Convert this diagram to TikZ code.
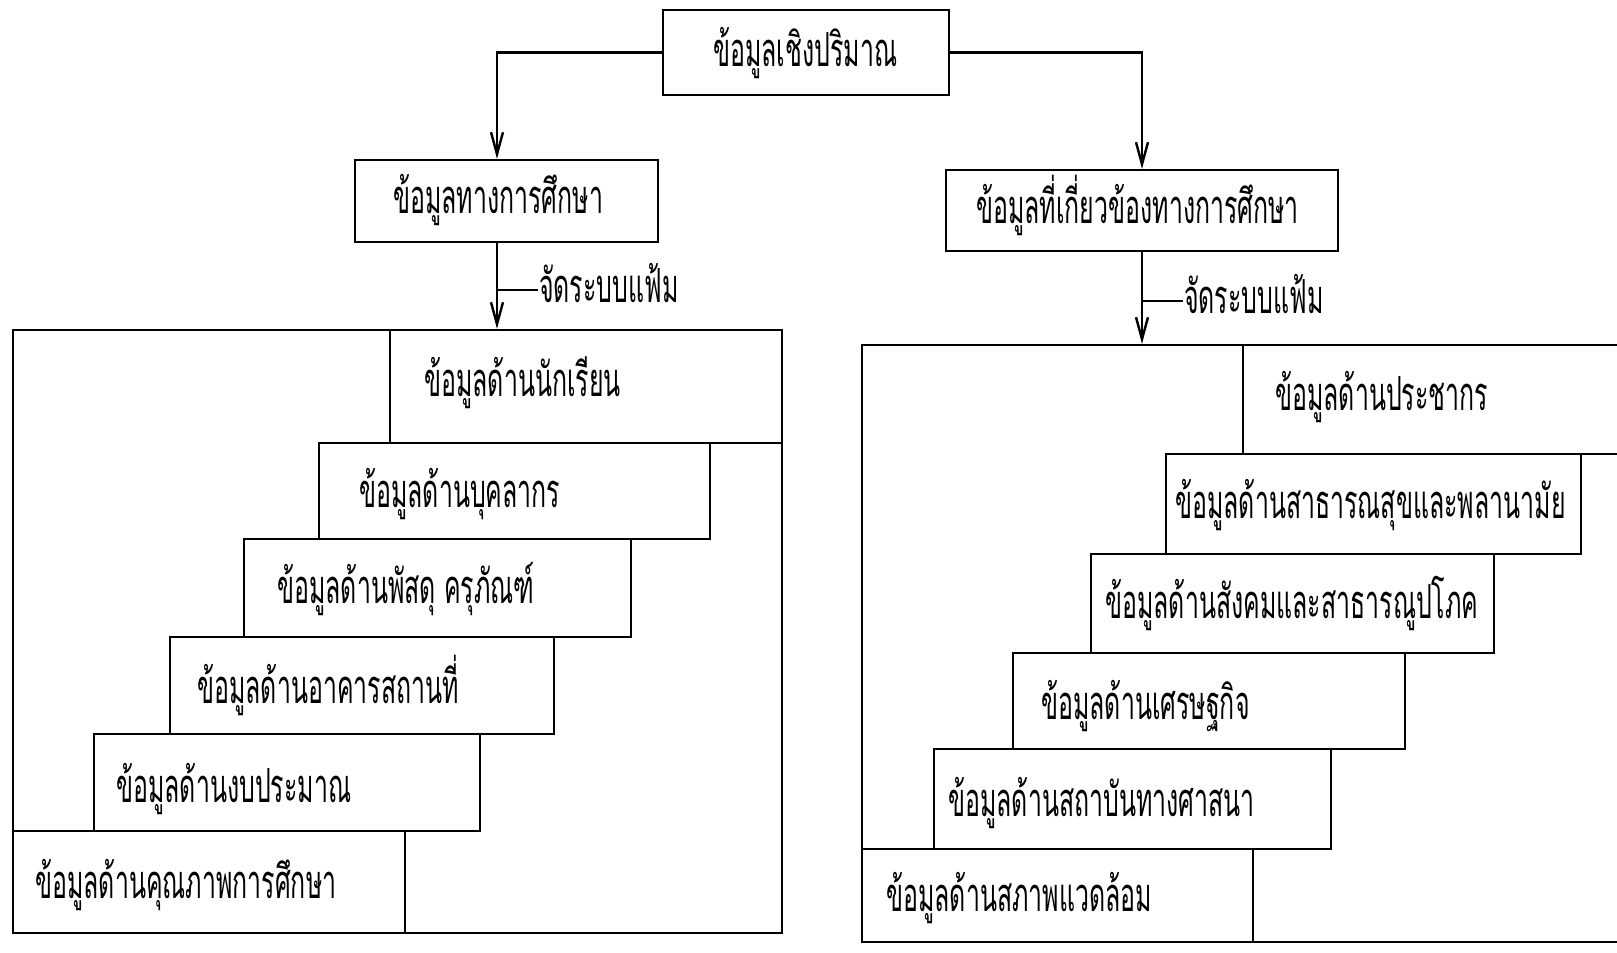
\documentclass[tikz,border=0pt]{standalone}
\usepackage{fontspec}
\newfontfamily\thaifont[Script=Thai,FakeStretch=0.53]{Loma}
\usetikzlibrary{arrows.meta,fit}
\begin{document}
\begin{tikzpicture}[x=0.5pt,y=-0.5pt,line width=1.2pt,
  box/.style={draw,rectangle,inner sep=0pt},
  txt/.style={font=\thaifont\fontsize{23.5}{26}\selectfont,anchor=base west,inner sep=0pt},
  arr/.style={-{Straight Barb[length=11pt,width=6pt]}}]
\useasboundingbox (0,0) rectangle (1617,953);
\clip (0,0) rectangle (1617,953);
% top level
\node[box,fit={(663,10)(949,95)}] (T) {};
\node[txt] (tT) at (712,66) {ข้อมูลเชิงปริมาณ};
\node[box,fit={(355,160)(658,242)}] (B1) {};
\node[txt] (tB1) at (392,213) {ข้อมูลทางการศึกษา};
\node[box,fit={(946,170)(1338,251)}] (B2) {};
\node[txt] (tB2) at (975,223) {ข้อมูลที่เกี่ยวข้องทางการศึกษา};
% outer boxes
\node[box,fit={(13,330)(782,933)}] (Lout) {};
\node[box,fit={(862,345)(1700,942)}] (Rout) {};
% left steps
\node[box,fit={(390,330)(782,443)}] (L1) {};
\node[box,fit={(319,443)(710,539)}] (L2) {};
\node[box,fit={(244,539)(631,637)}] (L3) {};
\node[box,fit={(170,637)(554,734)}] (L4) {};
\node[box,fit={(94,734)(480,831)}] (L5) {};
\node[box,fit={(13,831)(405,933)}] (L6) {};
\node[txt] (tL1) at (423,396) {ข้อมูลด้านนักเรียน};
\node[txt] (tL2) at (358,507) {ข้อมูลด้านบุคลากร};
\node[txt] (tL3) at (276,603) {ข้อมูลด้านพัสดุ ครุภัณฑ์};
\node[txt] (tL4) at (196,703) {ข้อมูลด้านอาคารสถานที่};
\node[txt] (tL5) at (115,802) {ข้อมูลด้านงบประมาณ};
\node[txt] (tL6) at (34,898) {ข้อมูลด้านคุณภาพการศึกษา};
% right steps
\node[box,fit={(1243,345)(1700,454)}] (R1) {};
\node[box,fit={(1166,454)(1581,554)}] (R2) {};
\node[box,fit={(1091,554)(1494,653)}] (R3) {};
\node[box,fit={(1013,653)(1405,749)}] (R4) {};
\node[box,fit={(934,749)(1331,849)}] (R5) {};
\node[box,fit={(862,849)(1253,942)}] (R6) {};
\node[txt] (tR1) at (1274,410) {ข้อมูลด้านประชากร};
\node[txt] (tR2) at (1174,518) {ข้อมูลด้านสาธารณสุขและพลานามัย};
\node[txt] (tR3) at (1104,618) {ข้อมูลด้านสังคมและสาธารณูปโภค};
\node[txt] (tR4) at (1040,719) {ข้อมูลด้านเศรษฐกิจ};
\node[txt] (tR5) at (947,816) {ข้อมูลด้านสถาบันทางศาสนา};
\node[txt] (tR6) at (885,911) {ข้อมูลด้านสภาพแวดล้อม};
% connectors
\coordinate (xL) at (497,0);
\draw[arr] (T.west) -| (xL |- B1.north);
\draw[arr] (T.east) -| (B2.north);
\draw[arr] (xL |- B1.south) -- (xL |- Lout.north);
\draw[arr] (B2.south) -- (B2.south |- Rout.north);
\coordinate (tickL) at (497,290);
\coordinate (tickR) at (1142,301);
\node[txt] (labL) at (538,302) {จัดระบบแฟ้ม};
\node[txt] (labR) at (1183,313) {จัดระบบแฟ้ม};
\draw (tickL) -- (tickL -| labL.west);
\draw (tickR) -- (tickR -| labR.west);
\end{tikzpicture}
\end{document}
